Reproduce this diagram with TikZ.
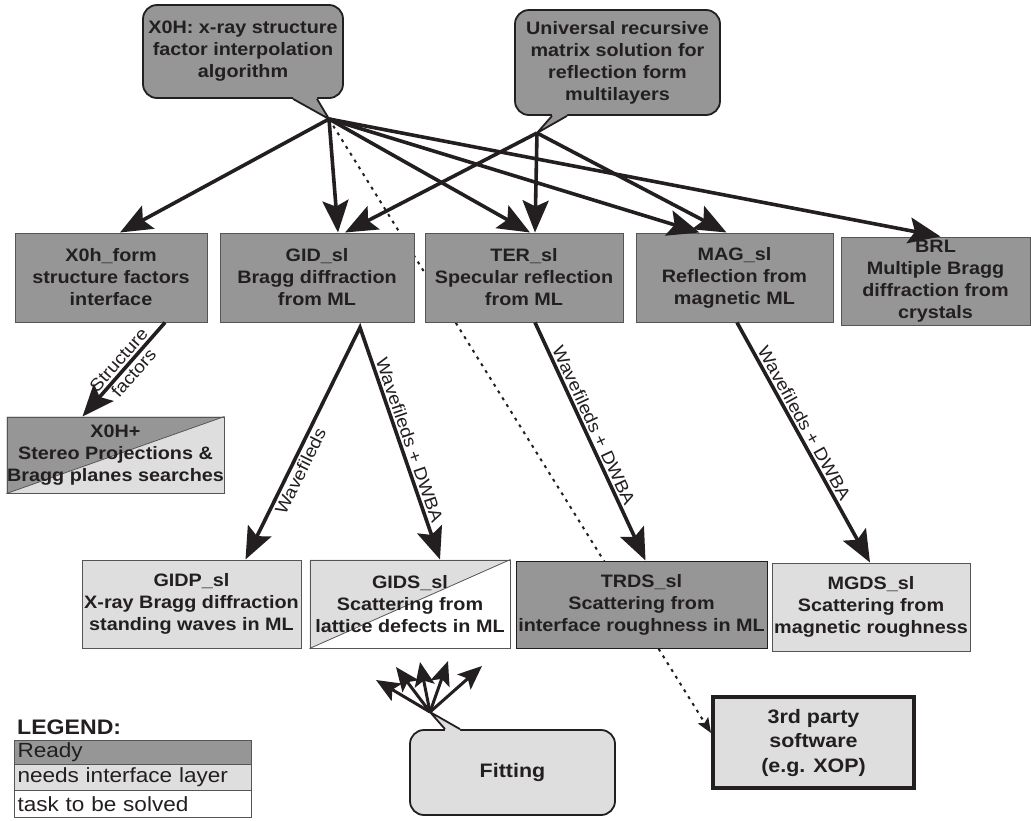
\documentclass[tikz,border=0pt]{standalone}
\usepackage{fontspec}
\setmainfont{Liberation Sans}[FakeStretch=1.1]
\usetikzlibrary{arrows.meta,backgrounds,calc}
\definecolor{dgrey}{RGB}{150,150,150}
\definecolor{lgrey}{RGB}{222,222,222}
\definecolor{ink}{RGB}{35,31,32}
\definecolor{edge}{RGB}{85,85,85}
\begin{document}
\begin{tikzpicture}[x=1pt,y=-1pt,
  every node/.style={text=ink},
  txt/.style={font=\bfseries\fontsize{18}{22}\selectfont, align=center},
  box/.style={txt, draw=edge, line width=1pt, inner sep=0pt},
  ready/.style={box, fill=dgrey},
  iface/.style={box, fill=lgrey},
  callout/.style={txt, draw=ink, line width=1.8pt, rounded corners=14pt, fill=dgrey, inner sep=0pt},
  tailline/.style={draw=ink, line width=1.8pt, line join=miter},
  big/.style={draw=ink, line width=3.6pt, -{Stealth[length=32pt,width=26pt,inset=6pt]}},
  bigboth/.style={draw=ink, line width=3.6pt, {Stealth[length=32pt,width=26pt,inset=6pt]}-{Stealth[length=32pt,width=26pt,inset=6pt]}},
  fan/.style={draw=ink, line width=3pt, -{Stealth[length=24pt,width=20pt,inset=5pt]}},
  dots/.style={draw=ink, line width=2pt, dash pattern=on 3pt off 5pt, -{Stealth[length=15pt,width=12pt,inset=3pt]}},
  lab/.style={font=\fontsize{17.5}{20}\selectfont, sloped, inner sep=2pt},
  legbox/.style={draw=edge, line width=1pt, anchor=north west, inner xsep=3pt, inner ysep=0pt, text width=231pt, align=left, font=\fontsize{20.5}{24}\selectfont}
]
\begin{scope}[on background layer]
  \fill[white] (0,0) rectangle (1031,820);
\end{scope}
\useasboundingbox (0,0) rectangle (1031,820);

% ---- callouts ----
\node[callout, minimum width=200pt, minimum height=93pt] (x0h) at (243,51.5) {X0H: x-ray structure\\factor interpolation\\algorithm};
\coordinate (x0htip) at (329,119);
\fill[dgrey] ([xshift=50pt,yshift=3pt]x0h.south) -- ([xshift=50pt]x0h.south) -- (x0htip) -- ([xshift=74pt]x0h.south) -- ([xshift=74pt,yshift=3pt]x0h.south) -- cycle;
\draw[tailline] ([xshift=50pt]x0h.south) -- (x0htip) -- ([xshift=74pt]x0h.south);

\node[callout, minimum width=205pt, minimum height=105pt] (univ) at (617.5,62.5) {Universal recursive\\matrix solution for\\reflection form\\multilayers};
\coordinate (univtip) at (537,133);
\fill[dgrey] ([xshift=-65.5pt,yshift=3pt]univ.south) -- ([xshift=-65.5pt]univ.south) -- (univtip) -- ([xshift=-50.5pt]univ.south) -- ([xshift=-50.5pt,yshift=3pt]univ.south) -- cycle;
\draw[tailline] ([xshift=-65.5pt]univ.south) -- (univtip) -- ([xshift=-50.5pt]univ.south);

% ---- ready row ----
\node[ready, minimum width=192pt, minimum height=89pt] (x0hform) at (111,277.5) {X0h\_form\\structure factors\\interface};
\node[ready, minimum width=194pt, minimum height=89pt] (gid) at (317,277.5) {GID\_sl\\Bragg diffraction\\from ML};
\node[ready, minimum width=198pt, minimum height=89pt] (ter) at (524,277.5) {TER\_sl\\Specular reflection\\from ML};
\node[ready, minimum width=197pt, minimum height=89pt] (mag) at (734.5,277.5) {MAG\_sl\\Reflection from\\magnetic ML};
\node[ready, minimum width=189pt, minimum height=88pt] (brl) at (935.5,281) {BRL\\Multiple Bragg\\diffraction from\\crystals};

% ---- X0H+ split box ----
\node[box, minimum width=217pt, minimum height=76pt] (x0hplus) at (115.5,455) {X0H+\\Stereo Projections \&\\Bragg planes searches};
\begin{scope}[on background layer]
  \fill[dgrey] (x0hplus.south west) -- (x0hplus.north east) -- (x0hplus.north west) -- cycle;
  \fill[lgrey] (x0hplus.south west) -- (x0hplus.north east) -- (x0hplus.south east) -- cycle;
  \draw[edge, line width=0.8pt] (x0hplus.south west) -- (x0hplus.north east);
\end{scope}

% ---- bottom row ----
\node[iface, minimum width=219pt, minimum height=88pt] (gidp) at (191.5,604) {GIDP\_sl\\X-ray Bragg diffraction\\standing waves in ML};
\node[box, minimum width=200pt, minimum height=88pt] (gids) at (410,604) {GIDS\_sl\\Scattering from\\lattice defects in ML};
\begin{scope}[on background layer]
  \fill[lgrey] (gids.south west) -- (gids.north east) -- (gids.north west) -- cycle;
  \draw[edge, line width=0.8pt] (gids.south west) -- (gids.north east);
\end{scope}
\node[ready, draw=ink, minimum width=251pt, minimum height=87pt] (trds) at (641.5,604.5) {TRDS\_sl\\Scattering from\\interface roughness in ML};
\node[iface, minimum width=198pt, minimum height=88pt] (mgds) at (871,607) {MGDS\_sl\\Scattering from\\magnetic roughness};

% ---- third party & fitting ----
\node[box, fill=lgrey, draw=ink, line width=4pt, minimum width=201pt, minimum height=91pt, font=\bfseries\fontsize{19.5}{24.5}\selectfont] (third) at (813.5,742.5) {3rd party\\software\\(e.g. XOP)};

\node[callout, fill=lgrey, minimum width=205pt, minimum height=85pt, font=\bfseries\fontsize{19.5}{23}\selectfont] (fit) at (512.5,772.5) {Fitting};
\coordinate (fittip) at (430,712);
\fill[lgrey] ([xshift=-67.5pt,yshift=-3pt]fit.north) -- ([xshift=-67.5pt]fit.north) -- (fittip) -- ([xshift=-52.5pt]fit.north) -- ([xshift=-52.5pt,yshift=-3pt]fit.north) -- cycle;
\draw[tailline] ([xshift=-67.5pt]fit.north) -- (fittip) -- ([xshift=-52.5pt]fit.north);

% ---- legend ----
\node[anchor=west, inner sep=0pt, font=\bfseries\fontsize{21}{24}\selectfont] (legtitle) at (17,727) {LEGEND:};
\node[legbox, fill=dgrey, minimum height=24pt] (lready) at (14,740) {Ready};
\node[legbox, fill=lgrey, minimum height=26pt] (liface) at (14,764) {needs interface layer};
\node[legbox, fill=white, minimum height=27pt] (ltask) at (14,790) {task to be solved};

% ---- connectors ----
\begin{scope}[on background layer]
  \draw[dots] (x0htip) -- ([yshift=9.5pt]third.west);
\end{scope}
\draw[big] (x0htip) -- ([xshift=9pt]x0hform.north);
\draw[big] (x0htip) -- ([xshift=21pt]gid.north);
\draw[big] (x0htip) -- ([xshift=6pt]ter.north);
\draw[big] (x0htip) -- ([xshift=-35pt]mag.north);
\draw[big] (x0htip) -- ([xshift=5pt]brl.north);
\draw[big] (univtip) -- ([xshift=28pt]gid.north);
\draw[big] (univtip) -- ([xshift=11pt]ter.north);
\draw[big] (univtip) -- ([xshift=-8pt]mag.north);

\draw[big] ([xshift=54pt]x0hform.south) -- node[lab, align=center, pos=0.47] {Structure\\factors} ([xshift=-33pt]x0hplus.north);

\coordinate (gidout) at ($(gid.south)+(43,5)$);
\draw[bigboth] ([xshift=54pt]gidp.north) -- node[lab, below, pos=0.4] {Wavefileds} (gidout) -- node[lab, above, pos=0.5] {Wavefileds + DWBA} ([xshift=30pt]gids.north);
\draw[big] ([xshift=11pt]ter.south) -- node[lab, above, pos=0.45] {Wavefileds + DWBA} ([xshift=4pt]trds.north);
\draw[big] ([xshift=2.5pt]mag.south) -- node[lab, above, pos=0.44] {Wavefileds + DWBA} ([xshift=-1pt]mgds.north);

\coordinate (f1) at (376,680);
\coordinate (f2) at (396,667);
\coordinate (f3) at (420,662);
\coordinate (f4) at (448,661);
\coordinate (f5) at (482,666);
\foreach \f in {f1,f2,f3,f4,f5} \draw[fan] (fittip) -- (\f);
\end{tikzpicture}
\end{document}
